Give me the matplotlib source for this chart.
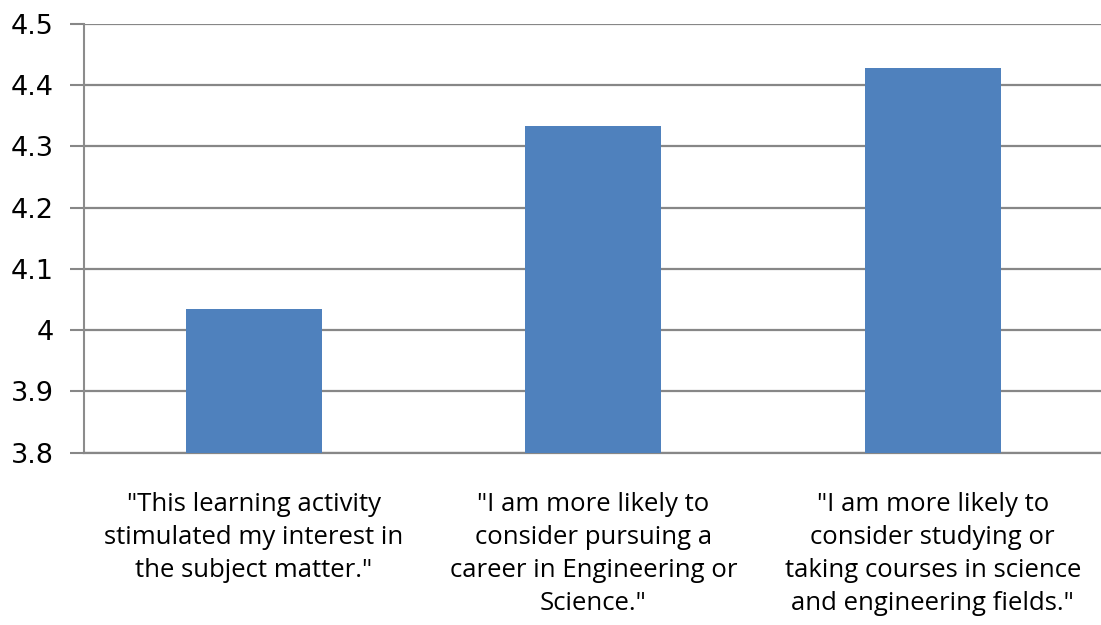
import matplotlib.pyplot as plt

categories = [
    '"This learning activity\nstimulated my interest in\nthe subject matter."',
    '"I am more likely to\nconsider pursuing a\ncareer in Engineering or\nScience."',
    '"I am more likely to\nconsider studying or\ntaking courses in science\nand engineering fields."',
]
values = [4.034, 4.333, 4.428]
yticks = [3.8, 3.9, 4.0, 4.1, 4.2, 4.3, 4.4, 4.5]
ytick_labels = ["3.8", "3.9", "4", "4.1", "4.2", "4.3", "4.4", "4.5"]

fig = plt.figure(figsize=(11.01, 6.25), dpi=100)
ax = fig.add_axes([0.0763, 0.2757, 0.9251, 0.6864])

ax.bar(range(len(values)), values, width=0.4, color="#4f81bd", zorder=3)

ax.set_xlim(-0.5, 2.5)
ax.set_ylim(3.8, 4.5)
ax.set_yticks(yticks)
ax.set_yticklabels(ytick_labels, fontsize=19.5, family="DejaVu Sans")
ax.set_xticks(range(len(categories)))
ax.set_xticklabels(categories, fontsize=18.5, family="Open Sans", linespacing=1.42)

ax.grid(axis="y", color="#878787", linewidth=1.6, zorder=0)
ax.set_axisbelow(True)
for side in ["top", "right"]:
    ax.spines[side].set_visible(False)
ax.spines["left"].set_color("#8c8c8c")
ax.spines["left"].set_linewidth(1.5)
ax.spines["bottom"].set_color("#878787")
ax.spines["bottom"].set_linewidth(1.6)
ax.tick_params(axis="y", length=10, width=1.5, color="#878787", pad=12)
ax.tick_params(axis="x", length=0, pad=28)

fig.savefig("out.png", dpi=100)
